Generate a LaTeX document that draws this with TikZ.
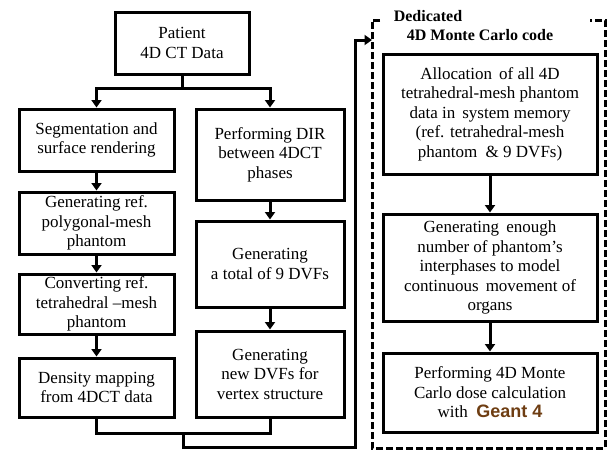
\documentclass[tikz,border=0pt]{standalone}
\usepackage{fontspec}
\setmainfont{Liberation Serif}
\newfontfamily\geantfont{Liberation Sans}
\usetikzlibrary{arrows.meta}
\definecolor{geantbrown}{HTML}{6E3D12}
\tikzset{
  box/.style={draw=black, line width=3pt, align=center, inner sep=2pt,
    font=\fontsize{17}{19.5}\selectfont},
  conn/.style={line width=3pt},
  arr/.style={conn, -{Triangle[width=10pt,length=7.5pt]}},
  title/.style={font=\fontsize{16}{19}\selectfont\bfseries, inner sep=0pt}
}
\begin{document}
\begin{tikzpicture}[x=1pt,y=-1pt]
\useasboundingbox (0,0) rectangle (609,450);
% left part
\node[box, minimum width=134pt, minimum height=62pt] (pat) at (182,43) {Patient\\4D CT Data};
\node[box, minimum width=155pt, minimum height=62pt] (L1) at (96.5,140) {Segmentation and\\surface rendering};
\node[box, minimum width=155pt, minimum height=62pt] (L2) at (96.5,223) {Generating ref.\\polygonal-mesh\\phantom};
\node[box, minimum width=155pt, minimum height=60pt] (L3) at (96.5,304) {Converting ref.\\tetrahedral --mesh\\phantom};
\node[box, minimum width=155pt, minimum height=59pt] (L4) at (96.5,387.5) {Density mapping\\from 4DCT data};
\node[box, minimum width=148pt, minimum height=91pt] (R1) at (270,154.5) {Performing DIR\\between 4DCT\\phases};
\node[box, minimum width=148pt, minimum height=86pt] (R2) at (270,264) {Generating\\a total of 9 DVFs};
\node[box, minimum width=148pt, minimum height=86pt] (R3) at (270,374) {Generating\\new DVFs for\\vertex structure};
% dedicated block
\draw[line width=3pt, dash pattern=on 7pt off 3pt] (380,20) -- (372,20) -- (372,448) -- (605,448) -- (605,20) -- (590,20);
\node[title] (t1) at (428,16) {Dedicated};
\node[title] (t2) at (480,35) {4D Monte Carlo code};
\coordinate (mcin) at (372,40);
\node[box, minimum width=214pt, minimum height=120pt] (A) at (490,114) {Allocation\ \,of all 4D\\tetrahedral-mesh phantom\\data in\ \,system memory\\(ref. tetrahedral-mesh\\phantom \ \& 9 DVFs)};
\node[box, minimum width=214pt, minimum height=107pt] (B) at (490,267.5) {Generating\ \,enough\\number of phantom's\\interphases to model\\continuous\ \,movement of\\organs};
\node[box, minimum width=214pt, minimum height=79pt] (C) at (490,392.5) {Performing 4D Monte\\Carlo dose calculation\\with\ \ {\geantfont\fontsize{18}{19.5}\selectfont\bfseries\color{geantbrown}Geant 4}};
% connectors
\draw[conn] (pat.south) -- ++(0,13) coordinate (split);
\draw[arr] (split) -| (L1.north);
\draw[arr] (split) -| (R1.north);
\draw[arr] (L1) -- (L2);
\draw[arr] (L2) -- (L3);
\draw[arr] (L3) -- (L4);
\draw[arr] (R1) -- (R2);
\draw[arr] (R2) -- (R3);
\draw[arr] (A) -- (B);
\draw[arr] (B) -- (C);
\draw[conn] (L4.south) -- ++(0,15) coordinate (jl) -| (R3.south);
\coordinate (jm) at (183,433);
\draw[arr] (jm) -- (183,447) -- (355,447) -- (355,40) -- (mcin);
\end{tikzpicture}
\end{document}
